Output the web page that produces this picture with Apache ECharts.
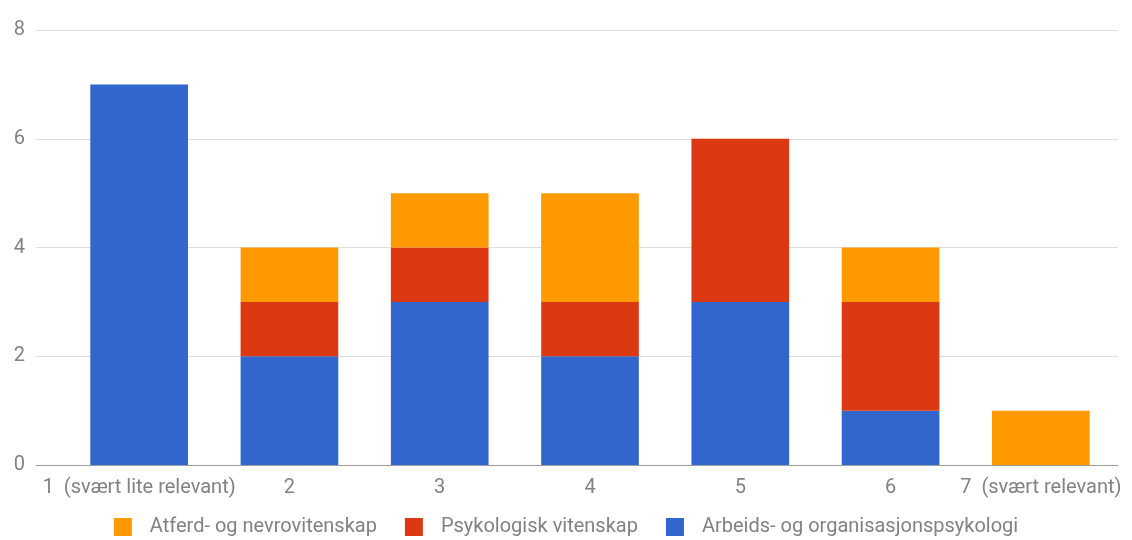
<!DOCTYPE html>
<html><head><meta charset="utf-8">
<script src="https://cdn.jsdelivr.net/npm/echarts@6/dist/echarts.min.js"></script>
<style>html,body{margin:0;padding:0;background:#fff}#c{width:1132px;height:540px}</style>
</head><body><div id="c"></div>
<script>
const categories = ['1  (svært lite relevant)', '2', '3', '4', '5', '6', '7  (svært relevant)'];
const arbeids = [7, 2, 3, 2, 3, 1, 0];
const psykologisk = [0, 1, 1, 1, 3, 2, 0];
const atferd = [0, 1, 1, 2, 0, 1, 1];
const seriesNames = ['Atferd- og nevrovitenskap', 'Psykologisk vitenskap', 'Arbeids- og organisasjonspsykologi'];
const yTicks = {min: 0, max: 8, interval: 2};

const chart = echarts.init(document.getElementById('c'));
const font = 'Roboto, Arial, sans-serif';
const txt = '#828282';
chart.setOption({
  animation: false,
  textStyle: {fontFamily: font},
  grid: [
    {left: 36, right: 14, top: 30, bottom: 75},
    {left: 64, right: 16, top: 30, bottom: 75}
  ],
  legend: {
    bottom: 3, padding: 0, left: 'center', icon: 'rect', itemWidth: 18, itemHeight: 18, itemGap: 28,
    textStyle: {color: txt, fontSize: 20, fontFamily: font, padding: [0, 0, 0, 13]},
    data: seriesNames
  },
  xAxis: [
    {gridIndex: 0, type: 'category', data: [''], axisLine: {show: true, lineStyle: {color: '#9e9e9e'}}, axisTick: {show: false}, axisLabel: {show: false}},
    {gridIndex: 1, type: 'category', data: categories, axisLine: {show: false}, axisTick: {show: false},
      axisLabel: {color: txt, fontSize: 20, margin: 13, interval: 0}}
  ],
  yAxis: [
    {gridIndex: 0, type: 'value', min: yTicks.min, max: yTicks.max, interval: yTicks.interval,
      axisLabel: {color: txt, fontSize: 20, margin: 11}, axisLine: {show: false}, axisTick: {show: false},
      splitLine: {lineStyle: {color: '#dedede'}}},
    {gridIndex: 1, type: 'value', min: yTicks.min, max: yTicks.max, interval: yTicks.interval, show: false, splitLine: {show: false}}
  ],
  series: [
    {name: seriesNames[2], type: 'bar', stack: 's', xAxisIndex: 1, yAxisIndex: 1, data: arbeids, itemStyle: {color: '#3366cc'}, barCategoryGap: '35%'},
    {name: seriesNames[1], type: 'bar', stack: 's', xAxisIndex: 1, yAxisIndex: 1, data: psykologisk, itemStyle: {color: '#dc3912'}},
    {name: seriesNames[0], type: 'bar', stack: 's', xAxisIndex: 1, yAxisIndex: 1, data: atferd, itemStyle: {color: '#ff9900'}}
  ]
});
</script></body></html>
